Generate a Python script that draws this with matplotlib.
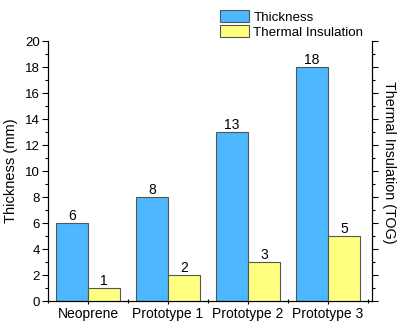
import matplotlib
matplotlib.use("Agg")
import matplotlib.pyplot as plt
from matplotlib.ticker import MultipleLocator, NullFormatter
import numpy as np

categories = ["Neoprene", "Prototype 1", "Prototype 2", "Prototype 3"]
thickness = [6, 8, 13, 18]
insulation = [1, 2, 3, 5]

plt.rcParams['font.family'] = ['Liberation Sans', 'DejaVu Sans']
plt.rcParams['font.size'] = 9.5

fig = plt.figure(figsize=(3.98, 3.23), dpi=100)
ax = fig.add_axes([48/398, 1 - 301/323, (372-48)/398, (301-41)/323])
ax2 = ax.twinx()

x = np.arange(len(categories))
w = 0.4
blue = '#4DB8FF'
yellow = '#FFFF80'
edge = '#555555'

b1 = ax.bar(x - w/2, thickness, w, color=blue, edgecolor=edge, linewidth=0.8, label='Thickness')
b2 = ax2.bar(x + w/2, insulation, w, color=yellow, edgecolor=edge, linewidth=0.8, label='Thermal Insulation')

for xi, v in zip(x - w/2, thickness):
    ax.text(xi, v + 0.2, str(v), ha='center', va='baseline', fontsize=10)
for xi, v in zip(x + w/2, insulation):
    ax2.text(xi, v + 0.2, str(v), ha='center', va='baseline', fontsize=10)

for a in (ax, ax2):
    a.set_ylim(0, 20)
    a.set_xlim(-0.5, 3.55)
    a.yaxis.set_major_locator(MultipleLocator(2))
    a.yaxis.set_minor_locator(MultipleLocator(1))
    a.spines['top'].set_visible(False)

ax.set_xticks(x)
ax.set_xticklabels(categories, fontsize=10)
ax.xaxis.set_minor_locator(MultipleLocator(1, offset=0.5))
ax.tick_params(axis='x', which='major', length=5, width=0.8, direction='inout', pad=2)
ax.tick_params(axis='x', which='minor', length=3, width=0.8, direction='inout')
ax.tick_params(axis='y', which='major', length=4, width=0.8, direction='out', pad=2)
ax.tick_params(axis='y', which='minor', length=2, width=0.8, direction='out')
ax2.tick_params(axis='y', which='major', length=4, width=0.8, direction='out', labelright=False)
ax2.tick_params(axis='y', which='minor', length=2, width=0.8, direction='out')
ax2.yaxis.set_major_formatter(NullFormatter())

ax.set_ylabel('Thickness (mm)', fontsize=10.5)
ax.yaxis.set_label_coords(-0.093, 0.5)
ax2.set_ylabel('Thermal Insulation (TOG)', fontsize=10.3, rotation=270, va='center')
ax2.yaxis.set_label_coords(1.054, 0.535)

fig.legend(handles=[b1, b2], loc='upper left', bbox_to_anchor=(220/398, 1 - 10/323),
           frameon=False, fontsize=9.6, handlelength=2.2, handleheight=1.05,
           handletextpad=0.3, labelspacing=0.1, borderpad=0, borderaxespad=0)

fig.savefig('out.png', dpi=100)
